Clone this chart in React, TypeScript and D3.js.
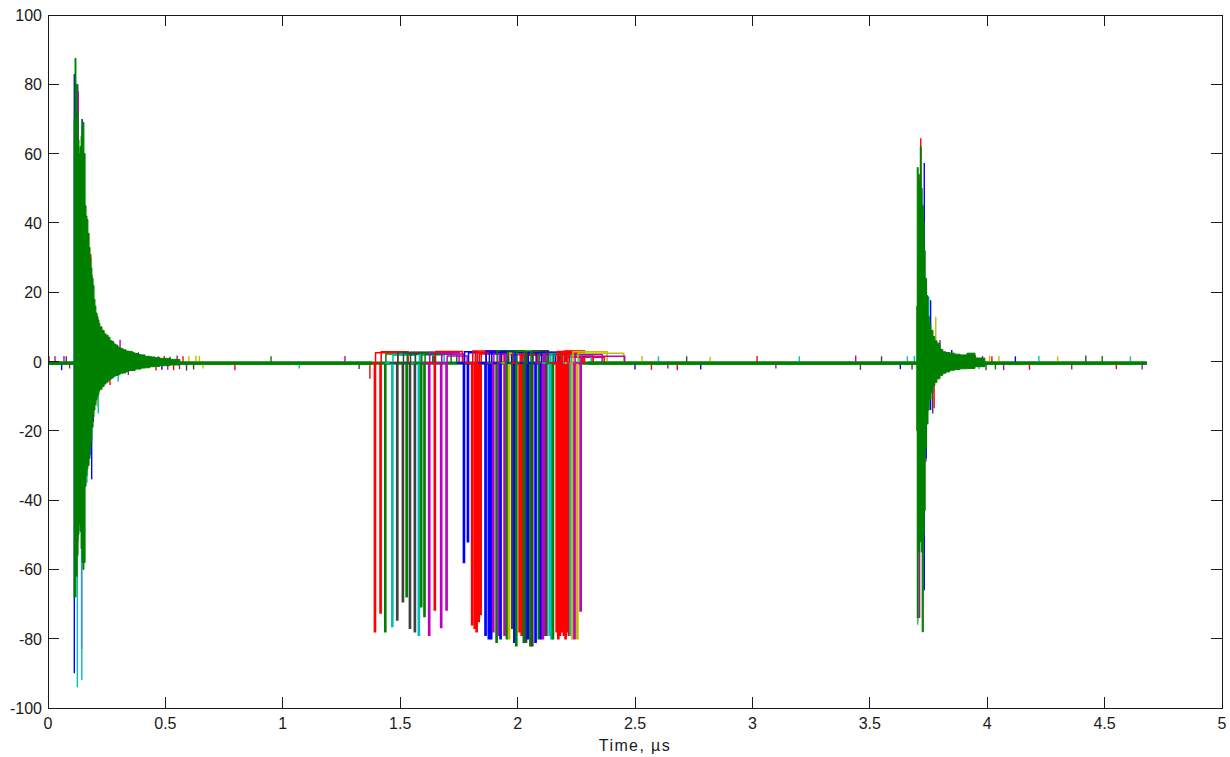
import React from 'react';
import * as d3 from 'd3';

// MATLAB default line colours: b g r c m y k
const palette = ['#0000ff', '#008000', '#ff0000', '#00bfbf', '#bf00bf', '#bfbf00', '#404040'];

const xTicks = [0, 0.5, 1, 1.5, 2, 2.5, 3, 3.5, 4, 4.5, 5];
const yTicks = [-100, -80, -60, -40, -20, 0, 20, 40, 60, 80, 100];

const baseLevel = -0.45;
const traceEnd = 4.68;

// one entry per trace: the negative pulse in the middle of the record
const pulseTimes = [1.390, 1.414, 1.434, 1.464, 1.485, 1.509, 1.525, 1.539, 1.560, 1.577, 1.587, 1.601,
  1.621, 1.645, 1.672, 1.695, 1.769, 1.786, 1.804, 1.815, 1.823, 1.832, 1.840, 1.861, 1.875, 1.885,
  1.894, 1.908, 1.917, 1.925, 1.942, 1.952, 1.961, 1.975, 1.984, 1.992, 2.006, 2.015, 2.024, 2.033,
  2.041, 2.052, 2.060, 2.074, 2.088, 2.097, 2.105, 2.113, 2.120, 2.134, 2.142, 2.148, 2.164, 2.171,
  2.178, 2.187, 2.195, 2.202, 2.209, 2.216, 2.223, 2.231, 2.240, 2.252, 2.266];
const pulseDepths = [-78, -72.6, -78, -76.5, -74.6, -69.3, -67.9, -77, -78, -79, -70.8, -73.6,
  -79, -71.7, -76.8, -71.7, -58, -52, -76, -77, -78, -75, -73, -79, -80, -80,
  -78, -81, -79, -80, -79, -80, -80, -77, -81, -82, -78, -79, -81, -81,
  -80, -82, -82, -81, -80, -80, -80, -79, -79, -79, -80, -80, -78, -80,
  -79, -78, -79, -80, -78, -79, -79, -80, -80, -80, -72];
const pulseColors = [2, 2, 1, 3, 6, 6, 1, 6, 6, 3, 1, 1,
  4, 2, 4, 4, 0, 0, 2, 2, 2, 2, 2, 0, 0, 0,
  4, 1, 4, 0, 4, 1, 5, 6, 0, 1, 2, 2, 1, 6,
  0, 1, 6, 0, 1, 0, 4, 4, 6, 3, 3, 1, 2, 2,
  2, 2, 2, 2, 2, 2, 3, 5, 4, 5, 4];
const plateauLevels = [2.5, 2.8, 2.2, 1.8, 2.6, 2.4, 2.0, 2.7, 2.5, 1.9, 2.3, 2.1,
  2.6, 2.9, 2.2, 1.6, 2.8, 2.5, 3.0, 2.6, 2.7, 2.2, 2.4, 3.0, 2.6, 2.3,
  2.2, 3.1, 2.0, 2.9, 2.0, 2.7, 2.4, 2.7, 2.5, 3.0, 2.2, 1.8, 2.8, 2.4,
  2.6, 2.9, 3.1, 2.5, 2.2, 2.7, 1.9, 2.3, 2.3, 2.2, 1.8, 2.0, 2.9, 2.4,
  2.6, 2.0, 3.0, 1.5, 1.2, 2.1, 1.8, 2.8, 2.1, 2.4, 1.5];
const plateauLengths = [0.10, 0.12, 0.15, 0.10, 0.16, 0.14, 0.12, 0.10, 0.09, 0.11, 0.13, 0.14,
  0.13, 0.12, 0.10, 0.09, 0.06, 0.08, 0.14, 0.11, 0.12, 0.10, 0.12, 0.10, 0.08, 0.09,
  0.09, 0.12, 0.10, 0.07, 0.08, 0.09, 0.10, 0.06, 0.08, 0.10, 0.08, 0.10, 0.09, 0.07,
  0.12, 0.08, 0.07, 0.10, 0.09, 0.08, 0.08, 0.09, 0.07, 0.13, 0.12, 0.06, 0.12, 0.10,
  0.10, 0.09, 0.09, 0.12, 0.16, 0.10, 0.09, 0.15, 0.12, 0.20, 0.19];
const pulseWidth = 0.005;

// envelope of the top (green) trace in the first ring-down: [t, upper, lower]
const ringA = [
  [0.111, 70, -68], [0.115, 87.5, -68], [0.119, 80, -62], [0.124, 72, -56], [0.128, 64, -50],
  [0.132, 60, -47], [0.136, 62, -49], [0.141, 65, -54], [0.145, 68, -58], [0.149, 69, -60],
  [0.153, 60, -58], [0.158, 45, -36], [0.162, 42, -33], [0.166, 41, -31], [0.170, 37, -30],
  [0.175, 33, -28], [0.179, 30, -25], [0.183, 27, -23], [0.187, 24, -19], [0.192, 22, -16],
  [0.196, 18, -14], [0.200, 16, -12.5], [0.204, 14, -11], [0.209, 13, -10], [0.213, 12, -9.5],
  [0.217, 11, -8.5], [0.221, 10, -8], [0.230, 9, -7.2], [0.239, 8, -6.5], [0.247, 7.6, -6],
  [0.256, 7, -5.4], [0.264, 6, -5], [0.273, 5.6, -4.6], [0.281, 5, -4.2], [0.290, 4.7, -4],
  [0.298, 4.1, -3.8], [0.307, 3.8, -3.4], [0.319, 3.4, -3.3], [0.332, 3.0, -2.9], [0.345, 2.9, -2.6],
  [0.358, 2.5, -2.6], [0.371, 2.3, -2.2], [0.383, 2.0, -2.2], [0.396, 1.9, -1.9], [0.413, 1.5, -1.8],
  [0.434, 1.3, -1.5], [0.456, 1.1, -1.4], [0.477, 0.9, -1.2], [0.520, 0.6, -1.0], [0.562, 0.4, -0.9],
];

// envelope of the green trace in the second ring-down
const ringB = [
  [3.700, 16, -20], [3.702, 56, -74], [3.706, 54, -55], [3.711, 52, -52], [3.715, 62, -52],
  [3.719, 50, -55], [3.723, 45, -78], [3.728, 40, -50], [3.732, 32, -43], [3.736, 24, -25],
  [3.742, 19, -18], [3.748, 13, -14], [3.753, 11, -11], [3.760, 9, -9], [3.769, 7.2, -7],
  [3.777, 6, -6], [3.786, 5.3, -5], [3.799, 3.5, -4], [3.811, 2.8, -3.4], [3.824, 2.6, -3],
  [3.841, 2.4, -2.5], [3.862, 2.1, -2.3], [3.884, 1.9, -2.1], [3.914, 2.4, -2], [3.948, 1.0, -1.5],
  [3.990, 0.5, -1.2],
];

// peaks of the other traces that reach past the green one: [t, upper, lower, colour]
const fringeA = [
  [0.112, 83, -90, 0], [0.125, 20, -94, 3], [0.127, 80, -52, 6], [0.129, 78, -40, 4],
  [0.136, 49, -30, 0], [0.140, 59, -20, 2], [0.143, 40, -83, 4], [0.144, 70, -92, 3],
  [0.146, 70, -45, 6], [0.165, 36, -32, 4], [0.166, 20, -35, 3], [0.179, 29, -27, 0],
  [0.182, 31, -10, 2], [0.186, 22, -34, 0], [0.187, 25, -5, 2], [0.193, 14.4, -17.4, 0],
  [0.200, 15.8, -8, 3], [0.204, 10, -11.6, 0], [0.209, 6, -13, 5], [0.214, 8, -15, 3],
  [0.221, 5, -7.7, 4], [0.243, 4, -4.5, 5], [0.257, 6.7, -3, 2], [0.264, 2, -6.8, 2],
  [0.277, 5.9, -2, 0], [0.299, 3, -5.8, 3], [0.307, 6.3, -2, 4], [0.342, 3, -3.9, 4],
  [0.360, 2.9, -1, 4], [0.385, 2.6, -1, 0],
];
const fringeB = [
  [3.704, 20, -76, 3], [3.706, 30, -75, 5], [3.712, 49.5, -74, 4], [3.717, 64.4, -20, 2],
  [3.722, 44.7, -30, 5], [3.732, 57.3, -66, 0], [3.739, 10, -28.9, 4], [3.740, 23, -28, 0],
  [3.751, 18.7, -12, 3], [3.759, 17.7, -14, 0], [3.768, 6, -15, 6], [3.774, 5, -13.5, 2],
  [3.781, 12.9, -5, 5], [3.799, 6.2, -3, 4], [3.808, 2, -3.5, 2], [3.849, 3.3, -2.5, 0],
];

// small spikes scattered along the baseline: [t, value, colour]
const noiseTicks = [
  [0.004, 1.5, 6], [0.030, 1.5, 4], [0.058, -2.5, 0], [0.068, 1.6, 4], [0.078, 1.5, 6], [0.092, -2, 4],
  [0.440, 1.6, 3], [0.460, -2.6, 2], [0.470, 1.5, 4], [0.485, -2.4, 0], [0.495, 1.6, 2], [0.510, -2.4, 4],
  [0.520, 1.4, 6], [0.535, -2.5, 2], [0.550, 1.7, 4], [0.560, -2.2, 4], [0.575, 1.5, 2], [0.590, -2.6, 6],
  [0.600, 1.5, 5], [0.620, -2.3, 6], [0.630, 1.7, 5], [0.645, 1.6, 5], [0.660, -2.0, 5],
  [0.796, -2.5, 2], [0.950, 1.5, 1], [1.070, -2.0, 3], [1.265, 1.6, 4], [1.325, -2.2, 6], [1.371, -5, 2],
  [2.500, -2.3, 0], [2.530, 1.6, 5], [2.570, -2.4, 2], [2.600, 1.5, 3], [2.640, -2.0, 4], [2.680, -2.5, 2],
  [2.720, 1.5, 6], [2.780, -2.3, 0], [2.820, 1.4, 5], [3.020, 1.6, 2], [3.100, -2.0, 4], [3.200, 1.5, 3],
  [3.440, 1.7, 4], [3.460, -2.4, 6], [3.550, 1.5, 6], [3.630, -2.2, 0], [3.660, 1.5, 3], [3.680, -2.3, 6],
  [3.690, 1.6, 3], [3.950, 1.8, 2], [3.965, -2.2, 3], [3.980, 1.6, 4], [3.995, -2.5, 6], [4.010, 1.7, 5],
  [4.020, 1.5, 2], [4.035, -2.3, 1], [4.050, 1.6, 5], [4.070, -2.5, 4], [4.120, 1.5, 0], [4.180, -2.4, 2],
  [4.220, 1.6, 3], [4.300, 1.5, 5], [4.360, -2.3, 4], [4.420, 1.7, 6], [4.490, 1.6, 1], [4.550, -2.2, 2],
  [4.610, 1.5, 3], [4.660, -2.3, 4],
];

const W = 1230;
const H = 757;
const box = { left: 48, right: 1222, top: 15, bottom: 708 };
const font = '"Liberation Sans", Arial, Helvetica, sans-serif';

export default function App() {
  const x = d3.scaleLinear().domain([0, 5]).range([box.left, box.right]);
  const y = d3.scaleLinear().domain([-100, 100]).range([box.bottom, box.top]);

  const line = d3.line<[number, number]>().x(d => x(d[0])).y(d => y(d[1]));
  const ringArea = d3.area<number[]>()
    .x(d => x(d[0]))
    .y0(d => y(d[2]))
    .y1(d => y(d[1]))
    .curve(d3.curveStepAfter);

  const pulsePaths = pulseTimes.map((tp, i) => {
    const pts: [number, number][] = [
      [tp - 0.03, baseLevel],
      [tp, baseLevel],
      [tp, pulseDepths[i]],
      [tp + pulseWidth, pulseDepths[i]],
      [tp + pulseWidth, plateauLevels[i]],
      [tp + plateauLengths[i], plateauLevels[i]],
      [tp + plateauLengths[i], baseLevel],
    ];
    return { d: line(pts), color: palette[pulseColors[i]] };
  });

  const tickLen = 11;

  return (
    <svg width={W} height={H} style={{ position: 'absolute', left: 0, top: 0, background: '#fff' }}>
      <rect x={0} y={0} width={W} height={H} fill="#fff" />
      <clipPath id="plotClip">
        <rect x={box.left} y={box.top} width={box.right - box.left} height={box.bottom - box.top} />
      </clipPath>
      <g clipPath="url(#plotClip)">
        <line x1={x(0)} x2={x(traceEnd)} y1={y(baseLevel)} y2={y(baseLevel)} stroke={palette[1]} strokeWidth={3.2} />
        {pulsePaths.map((p, i) => (
          <path key={'p' + i} d={p.d ?? ''} fill="none" stroke={p.color} strokeWidth={1.5} />
        ))}
        {noiseTicks.map((n, i) => (
          <line key={'n' + i} x1={x(n[0])} x2={x(n[0])} y1={y(baseLevel)} y2={y(n[1])}
            stroke={palette[n[2]]} strokeWidth={1.4} />
        ))}
        {[...fringeA, ...fringeB].map((f, i) => (
          <line key={'f' + i} x1={x(f[0])} x2={x(f[0])} y1={y(f[2])} y2={y(f[1])}
            stroke={palette[f[3]]} strokeWidth={1.4} />
        ))}
        <line x1={x(0)} x2={x(1.38)} y1={y(baseLevel)} y2={y(baseLevel)} stroke={palette[1]} strokeWidth={3.2} />
        <line x1={x(2.3)} x2={x(traceEnd)} y1={y(baseLevel)} y2={y(baseLevel)} stroke={palette[1]} strokeWidth={3.2} />
        <path d={ringArea(ringA) ?? ''} fill={palette[1]} stroke={palette[1]} strokeWidth={1} />
        <path d={ringArea(ringB) ?? ''} fill={palette[1]} stroke={palette[1]} strokeWidth={1} />
      </g>

      {/* axes box */}
      <rect x={box.left} y={box.top} width={box.right - box.left} height={box.bottom - box.top}
        fill="none" stroke="#1a1a1a" strokeWidth={1} shapeRendering="crispEdges" />

      {xTicks.map(t => (
        <g key={'x' + t}>
          <line x1={x(t)} x2={x(t)} y1={box.bottom} y2={box.bottom - tickLen} stroke="#1a1a1a" shapeRendering="crispEdges" />
          <line x1={x(t)} x2={x(t)} y1={box.top} y2={box.top + tickLen} stroke="#1a1a1a" shapeRendering="crispEdges" />
          <text x={x(t)} y={box.bottom + 21} textAnchor="middle" fontFamily={font} fontSize={16} fill="#1a1a1a">
            {String(t)}
          </text>
        </g>
      ))}
      {yTicks.map(t => (
        <g key={'y' + t}>
          <line x1={box.left} x2={box.left + tickLen} y1={y(t)} y2={y(t)} stroke="#1a1a1a" shapeRendering="crispEdges" />
          <line x1={box.right} x2={box.right - tickLen} y1={y(t)} y2={y(t)} stroke="#1a1a1a" shapeRendering="crispEdges" />
          <text x={box.left - 6} y={y(t) + 6} textAnchor="end" fontFamily={font} fontSize={16} fill="#1a1a1a">
            {String(t)}
          </text>
        </g>
      ))}
      <text x={(box.left + box.right) / 2} y={751} textAnchor="middle" fontFamily={font} fontSize={16}
        letterSpacing={1.4} fill="#1a1a1a">
        Time, µs
      </text>
    </svg>
  );
}
